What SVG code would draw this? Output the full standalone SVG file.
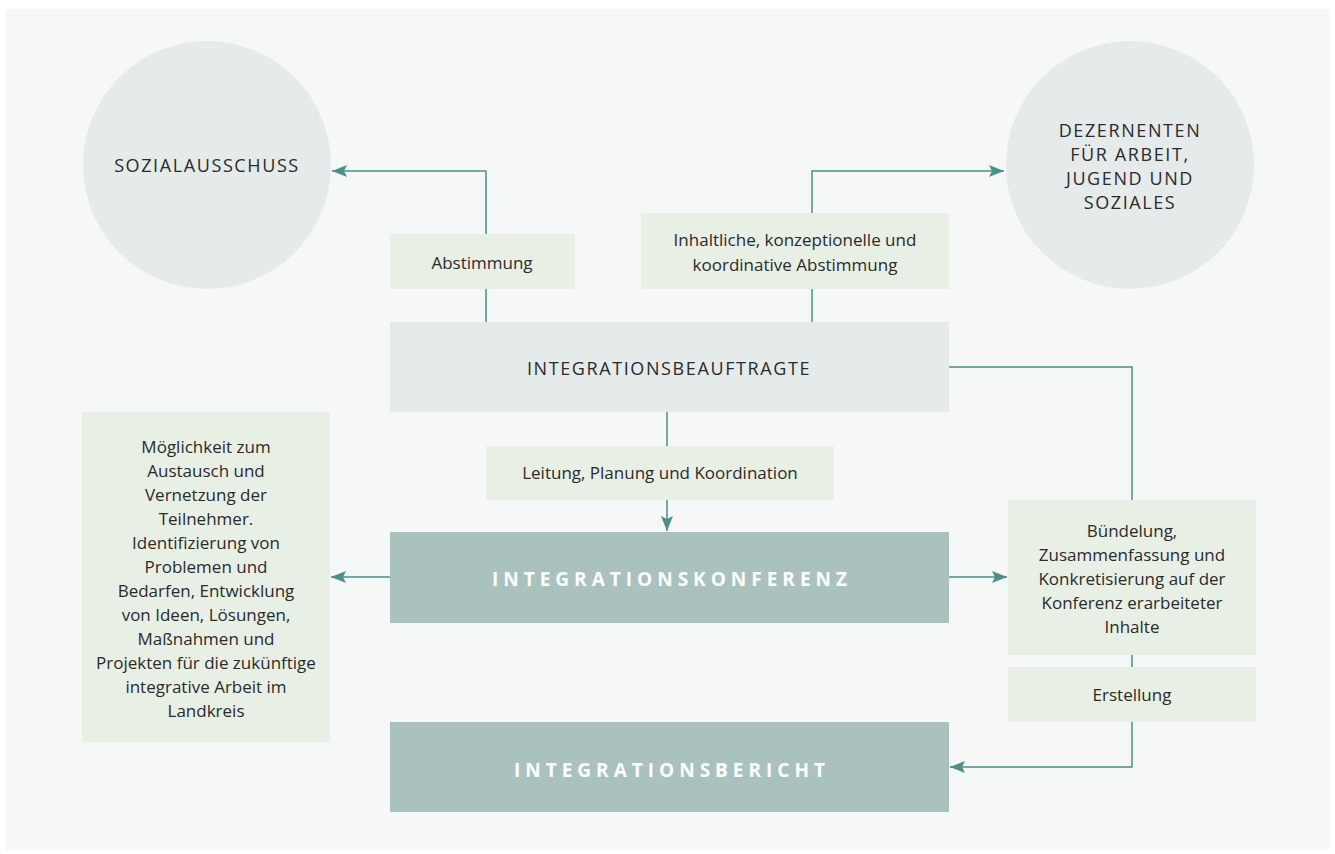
<svg xmlns="http://www.w3.org/2000/svg" width="1335" height="854" viewBox="0 0 1335 854">
<style>
.t{font-family:"Open Sans","Liberation Sans",sans-serif;font-size:17px;fill:#2b2b2b;text-anchor:middle}
.cap{font-family:"Open Sans","Liberation Sans",sans-serif;font-size:18px;fill:#2b2b2b;text-anchor:middle;letter-spacing:1.6px}
.big{font-family:"Open Sans","Liberation Sans",sans-serif;font-size:19px;font-weight:bold;fill:#ffffff;text-anchor:middle;letter-spacing:5px}
.lbl{fill:#e8efe5}
.circ{fill:#e5eaea}
.dark{fill:#aac2bf}
.con{fill:none;stroke:#4a8f8a;stroke-width:1.5}
</style>
<defs>
<marker id="ah" markerUnits="userSpaceOnUse" markerWidth="16" markerHeight="12" refX="15" refY="6" orient="auto">
<path d="M0,0 L15,6 L0,12 L3,6 Z" fill="#4a8f8a"/>
</marker>
</defs>
<rect x="6" y="9" width="1324" height="841" fill="#f6f8f7"/>

<g id="connectors">
<path class="con" d="M486,322 V171 H332" marker-end="url(#ah)"/>
<path class="con" d="M812,322 V171 H1004" marker-end="url(#ah)"/>
<path class="con" d="M667,412 V531" marker-end="url(#ah)"/>
<path class="con" d="M390,577 H331" marker-end="url(#ah)"/>
<path class="con" d="M949,577 H1007" marker-end="url(#ah)"/>
<path class="con" d="M949,367 H1132 V500"/>
<path class="con" d="M1132,655 V667"/>
<path class="con" d="M1132,722 V767 H950" marker-end="url(#ah)"/>
</g>

<g id="sozialausschuss">
<circle class="circ" cx="207" cy="165" r="124"/>
<text class="cap" x="207" y="172">SOZIALAUSSCHUSS</text>
</g>

<g id="dezernenten">
<circle class="circ" cx="1130" cy="165" r="124"/>
<text class="cap" x="1130" y="137">DEZERNENTEN</text>
<text class="cap" x="1130" y="161">FÜR ARBEIT,</text>
<text class="cap" x="1130" y="185">JUGEND UND</text>
<text class="cap" x="1130" y="209">SOZIALES</text>
</g>

<g id="abstimmung">
<rect class="lbl" x="390" y="234" width="185" height="55"/>
<text class="t" x="482" y="269">Abstimmung</text>
</g>

<g id="inhaltliche">
<rect class="lbl" x="641" y="213" width="308" height="76"/>
<text class="t" x="795" y="246">Inhaltliche, konzeptionelle und</text>
<text class="t" x="795" y="271">koordinative Abstimmung</text>
</g>

<g id="integrationsbeauftragte">
<rect class="circ" x="390" y="322" width="559" height="90"/>
<text class="cap" x="669" y="375">INTEGRATIONSBEAUFTRAGTE</text>
</g>

<g id="leitung">
<rect class="lbl" x="486" y="446" width="348" height="54"/>
<text class="t" x="660" y="479">Leitung, Planung und Koordination</text>
</g>

<g id="integrationskonferenz">
<rect class="dark" x="390" y="532" width="559" height="91"/>
<text class="big" x="672" y="586">INTEGRATIONSKONFERENZ</text>
</g>

<g id="moeglichkeit">
<rect class="lbl" x="82" y="412" width="248" height="330"/>
<text class="t" x="206" y="453">Möglichkeit zum</text>
<text class="t" x="206" y="477">Austausch und</text>
<text class="t" x="206" y="501">Vernetzung der</text>
<text class="t" x="206" y="525">Teilnehmer.</text>
<text class="t" x="206" y="549">Identifizierung von</text>
<text class="t" x="206" y="573">Problemen und</text>
<text class="t" x="206" y="597">Bedarfen, Entwicklung</text>
<text class="t" x="206" y="621">von Ideen, Lösungen,</text>
<text class="t" x="206" y="645">Maßnahmen und</text>
<text class="t" x="206" y="669">Projekten für die zukünftige</text>
<text class="t" x="206" y="693">integrative Arbeit im</text>
<text class="t" x="206" y="717">Landkreis</text>
</g>

<g id="buendelung">
<rect class="lbl" x="1008" y="500" width="248" height="155"/>
<text class="t" x="1132" y="537">Bündelung,</text>
<text class="t" x="1132" y="561">Zusammenfassung und</text>
<text class="t" x="1132" y="585">Konkretisierung auf der</text>
<text class="t" x="1132" y="609">Konferenz erarbeiteter</text>
<text class="t" x="1132" y="633">Inhalte</text>
</g>

<g id="erstellung">
<rect class="lbl" x="1008" y="667" width="248" height="55"/>
<text class="t" x="1132" y="701">Erstellung</text>
</g>

<g id="integrationsbericht">
<rect class="dark" x="390" y="722" width="559" height="90"/>
<text class="big" x="672" y="777">INTEGRATIONSBERICHT</text>
</g>
</svg>
